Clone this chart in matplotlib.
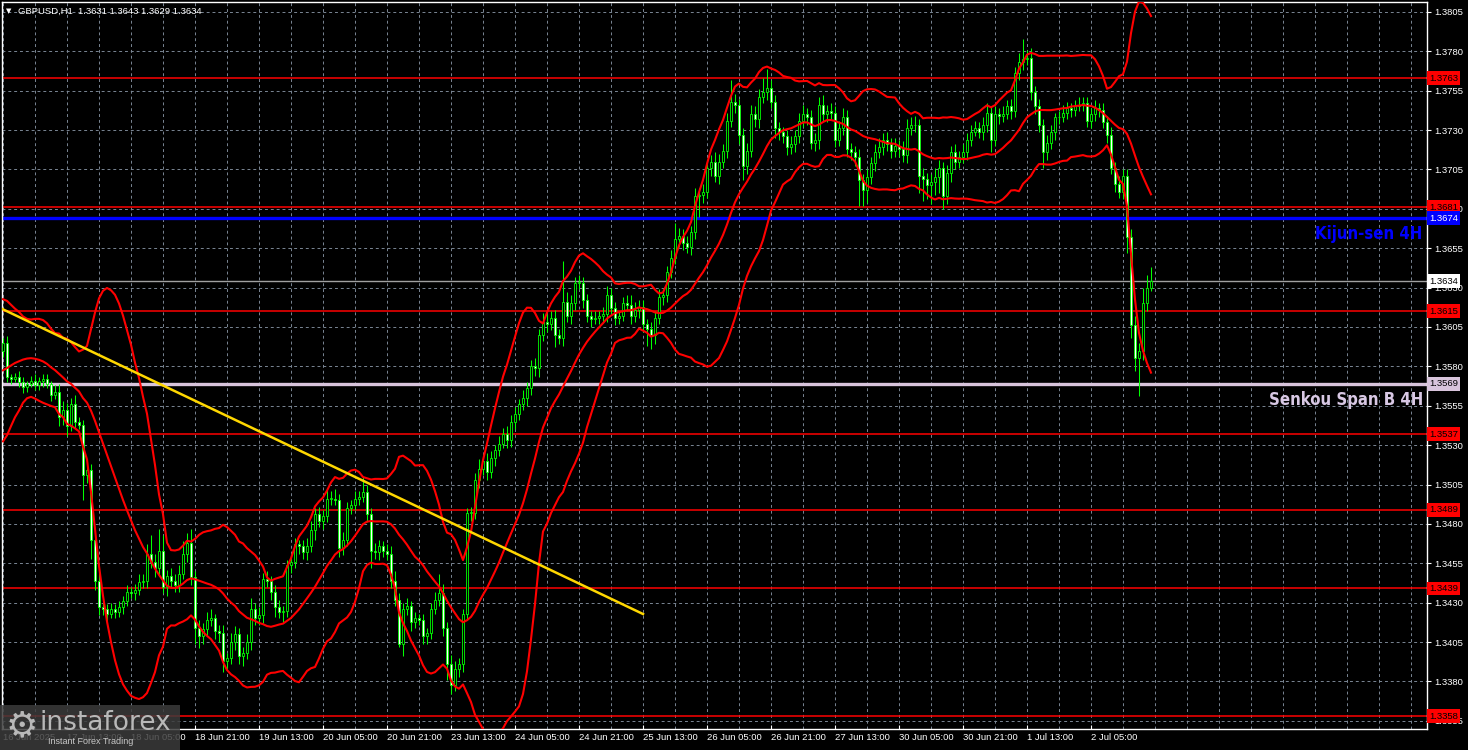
import numpy as np
import pandas as pd
import matplotlib
matplotlib.use("Agg")
import matplotlib.pyplot as plt
from matplotlib.patches import Rectangle
import matplotlib.transforms as mtransforms

# ---------------- data (prices in pips: 3595 -> 1.3595) ----------------
history = [3545, 3538, 3542, 3548, 3546, 3556, 3566, 3575, 3585, 3592,
           3600, 3606, 3600, 3594, 3598, 3592, 3588, 3594, 3590]

closes = [
    3595, 3573, 3572, 3573, 3570, 3567, 3569, 3571, 3568, 3571, 3572, 3569, 3562, 3564, 3548, 3552,
    3542, 3556, 3545, 3543, 3511, 3514, 3470, 3444, 3427, 3426, 3423, 3426, 3424, 3427, 3431, 3437,
    3436, 3438, 3443, 3444, 3461, 3456, 3452, 3463, 3440, 3447, 3444, 3441, 3448, 3461, 3468, 3446,
    3414, 3409, 3413, 3419, 3420, 3412, 3411, 3393, 3395, 3405, 3410, 3396, 3398, 3405, 3426, 3420,
    3422, 3445, 3444, 3437, 3427, 3424, 3425, 3454, 3456, 3467, 3466, 3462, 3466, 3476, 3486, 3482,
    3485, 3496, 3496, 3495, 3465, 3470, 3490, 3492, 3496, 3497, 3500, 3486, 3463, 3462, 3466, 3463,
    3461, 3444, 3432, 3404, 3426, 3428, 3418, 3420, 3419, 3409, 3411, 3426, 3432, 3436, 3414, 3391,
    3378, 3388, 3391, 3423, 3487, 3487, 3508, 3515, 3520, 3513, 3522, 3527, 3531, 3537, 3533, 3545,
    3550, 3556, 3560, 3566, 3580, 3579, 3600, 3608, 3607, 3611, 3600, 3598, 3621, 3612, 3620, 3633,
    3633, 3622, 3612, 3610, 3611, 3612, 3613, 3625, 3617, 3611, 3612, 3620, 3619, 3612, 3616, 3618,
    3607, 3604, 3600, 3611, 3624, 3625, 3640, 3649, 3661, 3663, 3658, 3656, 3665, 3688, 3689, 3691,
    3706, 3710, 3701, 3710, 3717, 3736, 3748, 3746, 3727, 3707, 3717, 3740, 3737, 3751, 3754, 3757,
    3748, 3731, 3729, 3726, 3719, 3721, 3726, 3736, 3740, 3738, 3722, 3724, 3746, 3740, 3742, 3741,
    3724, 3731, 3738, 3718, 3716, 3713, 3698, 3692, 3700, 3709, 3716, 3719, 3724, 3721, 3717, 3720,
    3718, 3714, 3731, 3733, 3733, 3701, 3699, 3695, 3697, 3700, 3706, 3688, 3703, 3716, 3710, 3713,
    3716, 3724, 3729, 3731, 3729, 3733, 3741, 3724, 3740, 3739, 3740, 3745, 3742, 3766, 3773, 3775,
    3776, 3754, 3745, 3733, 3716, 3722, 3729, 3738, 3738, 3741, 3744, 3743, 3745, 3746, 3747, 3736,
    3740, 3744, 3743, 3735, 3727, 3706, 3696, 3691, 3701, 3662, 3606, 3585, 3590, 3620, 3630, 3634,
]

wick_up = [
    3, 4, 2, 3, 4, 3, 2, 3, 4, 2, 3, 3, 2, 4, 5, 6,
    5, 4, 6, 3, 3, 4, 4, 3, 5, 3, 3, 4, 3, 4, 3, 4,
    3, 4, 5, 4, 6, 12, 5, 14, 10, 4, 5, 4, 6, 8, 6, 9,
    4, 5, 4, 5, 6, 3, 4, 5, 3, 6, 5, 4, 4, 5, 7, 4,
    5, 4, 5, 3, 4, 5, 3, 3, 5, 4, 3, 4, 5, 6, 4, 5,
    4, 7, 5, 6, 4, 5, 4, 3, 5, 4, 10, 5, 4, 5, 4, 3,
    4, 5, 6, 4, 4, 5, 3, 4, 3, 4, 3, 4, 5, 12, 6, 4,
    6, 5, 4, 3, 3, 4, 4, 6, 4, 5, 4, 3, 5, 4, 5, 4,
    4, 3, 5, 4, 4, 5, 4, 6, 5, 4, 5, 4, 26, 6, 5, 4,
    5, 4, 4, 3, 4, 3, 5, 6, 5, 4, 3, 4, 5, 6, 5, 4,
    4, 3, 4, 4, 5, 4, 4, 5, 10, 5, 4, 5, 4, 5, 4, 5,
    5, 4, 6, 5, 4, 5, 14, 5, 4, 4, 5, 6, 5, 5, 9, 12,
    5, 4, 4, 3, 4, 5, 4, 5, 6, 4, 5, 4, 5, 6, 4, 5,
    4, 5, 6, 5, 4, 4, 5, 4, 5, 4, 5, 6, 4, 5, 4, 5,
    4, 5, 6, 5, 6, 4, 5, 4, 5, 6, 5, 4, 5, 4, 5, 4,
    5, 4, 4, 5, 4, 5, 6, 4, 5, 4, 5, 4, 5, 4, 6, 13,
    5, 6, 4, 5, 4, 5, 4, 3, 4, 5, 4, 3, 4, 5, 4, 4,
    4, 5, 3, 4, 4, 5, 4, 5, 4, 4, 5, 6, 5, 10, 8, 9,
]

wick_dn = [
    4, 3, 3, 2, 3, 4, 3, 2, 3, 3, 4, 3, 4, 3, 6, 5,
    6, 3, 4, 3, 16, 5, 12, 6, 5, 4, 5, 3, 4, 3, 4, 3,
    3, 4, 3, 4, 5, 4, 6, 5, 4, 6, 5, 4, 4, 3, 5, 5,
    10, 8, 5, 4, 4, 5, 6, 7, 5, 4, 5, 5, 6, 4, 5, 4,
    4, 5, 4, 5, 6, 4, 6, 4, 5, 4, 5, 4, 5, 4, 6, 4,
    5, 4, 4, 3, 6, 5, 4, 4, 3, 4, 3, 5, 11, 4, 5, 4,
    4, 5, 4, 2, 8, 4, 6, 4, 3, 5, 5, 4, 3, 4, 5, 10,
    6, 4, 5, 5, 4, 5, 4, 5, 4, 5, 4, 5, 4, 3, 5, 4,
    5, 4, 4, 5, 4, 5, 6, 4, 5, 4, 8, 4, 5, 4, 5, 4,
    4, 5, 4, 5, 3, 4, 4, 5, 4, 5, 4, 3, 4, 5, 4, 5,
    5, 11, 9, 6, 4, 5, 4, 4, 4, 5, 4, 4, 5, 4, 13, 5,
    4, 5, 4, 5, 4, 5, 4, 5, 6, 9, 5, 4, 5, 6, 4, 5,
    4, 6, 5, 4, 5, 4, 5, 4, 4, 5, 4, 5, 6, 4, 5, 4,
    5, 4, 4, 5, 5, 6, 16, 10, 8, 4, 5, 4, 5, 4, 5, 4,
    5, 4, 5, 4, 4, 11, 14, 9, 12, 8, 10, 8, 5, 6, 5, 4,
    4, 5, 4, 3, 4, 5, 4, 8, 4, 5, 4, 3, 5, 4, 4, 5,
    4, 5, 5, 4, 10, 5, 4, 5, 4, 3, 4, 5, 4, 3, 4, 4,
    5, 4, 5, 4, 5, 4, 5, 4, 5, 10, 8, 8, 24, 6, 5, 2,
]

time_labels = ["16 Jun 2025", "17 Jun 13:00", "18 Jun 05:00", "18 Jun 21:00", "19 Jun 13:00",
               "20 Jun 05:00", "20 Jun 21:00", "23 Jun 13:00", "24 Jun 05:00", "24 Jun 21:00",
               "25 Jun 13:00", "26 Jun 05:00", "26 Jun 21:00", "27 Jun 13:00", "30 Jun 05:00",
               "30 Jun 21:00", "1 Jul 13:00", "2 Jul 05:00"]

price_ticks = [1.3805, 1.3780, 1.3755, 1.3730, 1.3705, 1.3680, 1.3655, 1.3630, 1.3605, 1.3580,
               1.3555, 1.3530, 1.3505, 1.3480, 1.3455, 1.3430, 1.3405, 1.3380, 1.3355]

red_levels = [1.3763, 1.3681, 1.3615, 1.3537, 1.3489, 1.3439, 1.3358]
kijun_level = 1.3674
senkou_level = 1.3569
last_price = 1.3634
trend_x = [-0.75, 160.0]
trend_y = [1.36171, 1.34228]
title_text = "GBPUSD,H1  1.3631 1.3643 1.3629 1.3634"

# ---------------- derived series ----------------
c = 1 + np.array(closes) / 10000.0
o = np.concatenate([[1 + history[-1] / 10000.0], c[:-1]])
hi = np.maximum(o, c) + np.array(wick_up) / 10000.0
lo = np.minimum(o, c) - np.array(wick_dn) / 10000.0
n = len(c)
idx = np.arange(n)

full = pd.Series(1 + np.array(history + closes) / 10000.0)
mid = full.rolling(20).mean().values[-n:]
sd = full.rolling(20).std(ddof=0).values[-n:]
upper = mid + 2 * sd
lower = mid - 2 * sd

# ---------------- figure ----------------
W, H = 1468, 750
fig = plt.figure(figsize=(W / 100, H / 100), dpi=100, facecolor="black")
ax = fig.add_axes([2 / W, (H - 729) / H, (1427 - 2) / W, (729 - 2) / H])
ax.set_facecolor("black")
ax.set_xlim(-0.25, 356)
ax.set_ylim(1.33498, 1.38113)

grid_col = "#7a8694"
for gx in range(0, 357, 8):
    ax.axvline(gx, color=grid_col, lw=0.7, ls=(0, (3, 3)), zorder=0)
for gy in price_ticks:
    ax.axhline(gy, color=grid_col, lw=0.7, ls=(0, (3, 3)), zorder=0)

# horizontal levels
for lv in red_levels:
    ax.axhline(lv, color="#ff0000", lw=1.1, zorder=1)
ax.axhline(last_price, color="#a0a0a0", lw=1.0, zorder=1)
ax.axhline(kijun_level, color="#0000ff", lw=2.4, zorder=1)
ax.axhline(senkou_level, color="#d8c4dc", lw=2.4, zorder=1)

# candles
ax.vlines(idx, lo, hi, color="#00ff00", lw=0.75, zorder=3)
bottoms = np.minimum(o, c)
heights = np.maximum(np.abs(c - o), 0.00004)
faces = np.where(c >= o, "black", "white")
ax.bar(idx, heights, bottom=bottoms, width=0.72, color=faces, edgecolor="#00ff00",
       linewidth=0.6, zorder=4)

# bollinger bands
for band in (upper, mid, lower):
    ax.plot(idx, band, color="#ff0000", lw=1.5, zorder=5)

# trend line
ax.plot(trend_x, trend_y, color="#ffd700", lw=1.8, zorder=5)

# axes styling
for sp in ax.spines.values():
    sp.set_color("white")
    sp.set_linewidth(1.0)
ax.yaxis.tick_right()
ax.set_yticks(price_ticks)
ax.set_yticklabels([f"{p:.4f}" for p in price_ticks])
ax.tick_params(axis="y", colors="white", labelcolor="white", labelsize=6.8, length=3,
               width=0.8, pad=2)
for t in ax.get_yticklabels():
    t.set_family("Liberation Sans")
ax.set_xticks([16 * k for k in range(len(time_labels))])
ax.set_xticklabels([])
ax.tick_params(axis="x", colors="white", length=3, width=0.8, direction="in")

xt = mtransforms.blended_transform_factory(ax.transData, fig.transFigure)
for k, lab in enumerate(time_labels):
    ax.text(16 * k, 1 - 733 / H, lab, transform=xt, color="white", fontsize=6.8,
            family="Liberation Sans", ha="left", va="top", clip_on=False)

# right price boxes
yt = mtransforms.blended_transform_factory(ax.transAxes, ax.transData)
def price_box(level, fc, tc):
    ax.text(1.0015, level, f"{level:.4f}", transform=yt, color=tc, fontsize=6.8,
            family="Liberation Sans", ha="left", va="center", clip_on=False, zorder=10,
            bbox=dict(boxstyle="square,pad=0.25", fc=fc, ec="none"))

for lv in red_levels:
    price_box(lv, "#ff0000", "black")
price_box(kijun_level, "#0000ff", "white")
price_box(senkou_level, "#d8c4dc", "black")
price_box(last_price, "white", "black")

# labels for ichimoku lines (narrow bold)
ax.text(0.9965, 1.3664, "Kijun-sen 4H", transform=yt,
        color="#0000ff", fontsize=12, fontweight="bold", fontstretch="condensed",
        family=["DejaVu Sans"], ha="right", va="center", zorder=8)
ax.text(0.9975, 1.35588, "Senkou Span B 4H", transform=yt,
        color="#d8c8e4", fontsize=12, fontweight="bold", fontstretch="condensed",
        family=["DejaVu Sans"], ha="right", va="center", zorder=8)

# title
fig.text(6 / W, 1 - 11 / H, "\u25BC", color="white", fontsize=5, va="center", ha="left")
fig.text(18 / W, 1 - 11 / H, title_text, color="white", fontsize=6.8,
         family="Liberation Sans", va="center", ha="left")

# watermark logo
fig.patches.append(Rectangle((0, 0), 180 / W, 45 / H, transform=fig.transFigure,
                             fc="#3c3c3c", ec="none", alpha=0.85, zorder=20))
fig.text(22 / W, 1 - 726 / H, "\u2699", color="#b8b8b8", fontsize=26, ha="center",
         va="center", zorder=21)
fig.text(40 / W, 1 - 723 / H, "instaforex", color="#b8b8b8", fontsize=19, ha="left",
         va="center", zorder=21, family="DejaVu Sans")
fig.text(48 / W, 1 - 741 / H, "Instant Forex Trading", color="#c8c8c8", fontsize=6.5,
         ha="left", va="center", zorder=21, family="Liberation Sans")

fig.savefig("out.png", dpi=100, facecolor="black")
